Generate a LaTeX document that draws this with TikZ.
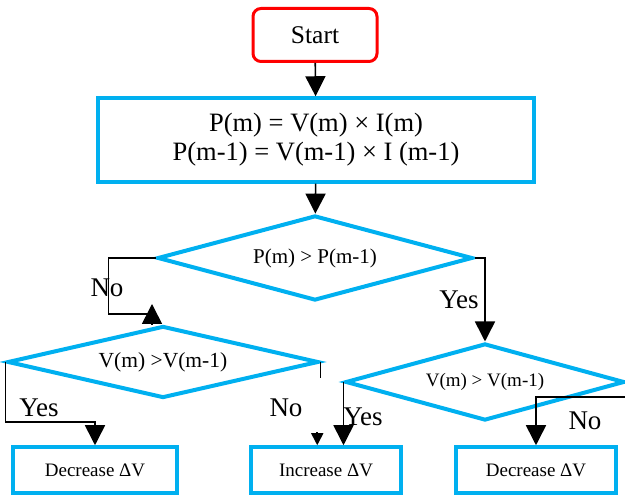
\documentclass[tikz,border=0pt]{standalone}
\usepackage{fontspec}
\setmainfont{Liberation Serif}
\usepackage{tikz}
\usetikzlibrary{shapes.geometric,arrows.meta,positioning,calc}
\definecolor{flowcyan}{RGB}{0,176,240}
\definecolor{flowred}{RGB}{255,0,0}
\tikzset{
  terminal/.style={rectangle, rounded corners=8pt, draw=flowred, line width=3pt,
                   minimum width=124pt, minimum height=53pt, inner sep=0pt,
                   font=\fontsize{25.5}{29}\selectfont},
  process/.style={rectangle, draw=flowcyan, line width=3.5pt, minimum width=436pt,
                  minimum height=84pt, align=center, font=\fontsize{26.5}{29}\selectfont},
  decision/.style={diamond, draw=flowcyan, line width=4pt, inner sep=0pt},
  result/.style={rectangle, draw=flowcyan, line width=3.5pt, minimum width=160pt,
                 minimum height=46pt, font=\fontsize{19}{22}\selectfont},
  arrow/.style={-{Triangle[length=20pt,width=20pt]}, line width=1.6pt},
  link/.style={line width=1.6pt},
  branch/.style={font=\fontsize{27}{30}\selectfont}
}

\begin{document}
\begin{tikzpicture}[x=1pt, y=1pt]
\useasboundingbox (0,0) rectangle (625,497);
% blocks
\node[terminal] (start) at (315,462) {Start};
\node[process] (power) at (316,357) {P(m) = V(m) × I(m)\\P(m-1) = V(m-1) × I (m-1)};
\node[decision, aspect=3.7, minimum width=315pt, minimum height=85pt,
      font=\fontsize{21}{25}\selectfont] (dp) at (315,239) {P(m) > P(m-1)};
\node[decision, aspect=4.3, minimum width=311pt, minimum height=72pt,
      font=\fontsize{21.5}{25}\selectfont] (dvl) at (163,135) {V(m) >V(m-1)};
\node[decision, aspect=3.6, minimum width=279pt, minimum height=77pt,
      font=\fontsize{19}{22}\selectfont] (dvr) at (485,115) {V(m) > V(m-1)};
\node[result, minimum width=164pt] (decl) at (95,27) {Decrease ΔV};
\node[result, minimum width=150pt] (inc) at (326,27) {Increase ΔV};
\node[result, minimum width=160pt] (decr) at (536,27) {Decrease ΔV};
% connectors
\draw[arrow] (start) -- (power);
\draw[arrow] (power) -- (dp);
\coordinate (noturn) at (152,183);
\draw[link] (dp.west) -- ++(-47,0) |- (noturn);
\draw[arrow] (noturn |- dvl.north) -- ++(0,20);
\draw[arrow] (dvl.west) -- ++(0,-60) -| (decl.north);
\draw[link] (dvl.east) -- ++(0,-16);
\draw[-{Triangle[length=12pt,width=12pt]}, link] ($(inc.north west)+(68,13)$) -- ($(inc.north west)+(68,0)$);
\draw[arrow] (dp.east) -| (dvr.north);
\draw[arrow] (dvr.west) -- (dvr.west |- inc.north);
\draw[arrow] (dvr.east) -- ++(0,-15) -| (decr.north);
% branch labels
\node[branch] (nop) at (107,209) {No};
\node[branch] (yesp) at (459,197) {Yes};
\node[branch] (yesl) at (39,89) {Yes};
\node[branch] (nol) at (286,89) {No};
\node[branch] (yesr) at (363,80) {Yes};
\node[branch] (nor) at (585,76) {No};
\end{tikzpicture}
\end{document}
